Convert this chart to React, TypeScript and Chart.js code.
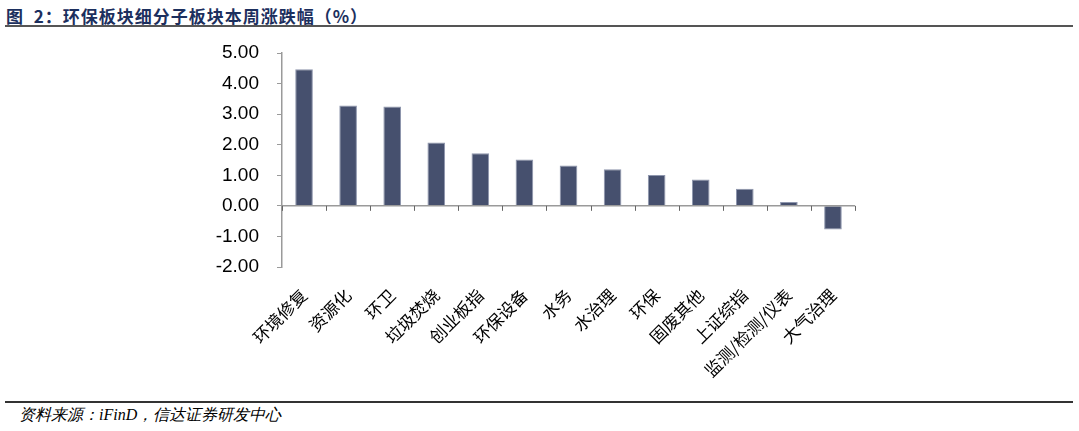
import React, { useEffect, useRef } from 'react';
import { Chart, registerables } from 'chart.js';

Chart.register(...registerables);

const categories = [
  '环境修复', '资源化', '环卫', '垃圾焚烧', '创业板指', '环保设备', '水务',
  '水治理', '环保', '固废其他', '上证综指', '监测/检测/仪表', '大气治理',
];
const weeklyChange = [4.47, 3.28, 3.25, 2.07, 1.72, 1.52, 1.32, 1.2, 1.01, 0.86, 0.56, 0.13, -0.77];
const yMin = -2;
const yMax = 5;
const yStep = 1;

// zero line with downward ticks at category boundaries
const zeroAxis = {
  id: 'zeroAxis',
  afterDatasetsDraw(chart: any) {
    const { ctx, chartArea, scales } = chart;
    const y = scales.y.getPixelForValue(0);
    const n = categories.length;
    const step = (chartArea.right - chartArea.left) / n;
    ctx.save();
    ctx.strokeStyle = '#9a9a9a';
    ctx.lineWidth = 1.5;
    ctx.beginPath();
    ctx.moveTo(chartArea.left, y);
    ctx.lineTo(chartArea.right, y);
    ctx.stroke();
    ctx.strokeStyle = '#666';
    ctx.lineWidth = 1;
    ctx.beginPath();
    for (let i = 0; i <= n; i++) {
      const x = Math.round(chartArea.left + i * step) + 0.5;
      ctx.moveTo(x, y);
      ctx.lineTo(x, y + 5);
    }
    ctx.stroke();
    ctx.restore();
  },
};

const App: React.FC = () => {
  const chartRef = useRef<HTMLCanvasElement>(null);
  const chartInstance = useRef<Chart | null>(null);

  useEffect(() => {
    document.body.style.margin = '0';
    if (!chartRef.current) return;
    const ctx = chartRef.current.getContext('2d');
    if (!ctx) return;

    if (chartInstance.current) {
      chartInstance.current.destroy();
      chartInstance.current = null;
    }

    chartInstance.current = new Chart(ctx, {
      type: 'bar',
      data: {
        labels: categories,
        datasets: [{
          data: weeklyChange,
          backgroundColor: '#46506e',
          borderColor: '#8e96ad',
          borderWidth: 1,
          barPercentage: 0.4,
          categoryPercentage: 1,
        }],
      },
      options: {
        animation: false,
        responsive: true,
        maintainAspectRatio: false,
        layout: { padding: { top: 53, right: 224, left: 0, bottom: 0 } },
        plugins: {
          legend: { display: false },
          tooltip: { enabled: false },
        },
        scales: {
          x: {
            offset: true,
            border: { display: false },
            grid: { display: false },
            ticks: {
              minRotation: 45,
              maxRotation: 45,
              autoSkip: false,
              padding: 10,
              color: '#000',
              font: { family: '"Noto Sans CJK SC", sans-serif', size: 17 },
            },
            afterFit: (scale: any) => { scale.height = 133; },
          },
          y: {
            min: yMin,
            max: yMax,
            border: { display: true, color: '#9a9a9a', width: 1.5 },
            grid: { drawOnChartArea: false, drawTicks: true, tickLength: 5, color: '#9a9a9a' },
            ticks: {
              stepSize: yStep,
              padding: 18,
              color: '#000',
              font: { family: '"Liberation Sans", Arial, sans-serif', size: 19 },
              callback: (v: any) => Number(v).toFixed(2),
            },
            afterFit: (scale: any) => { scale.width = 282; },
          },
        },
      },
      plugins: [zeroAxis],
    });

    return () => {
      if (chartInstance.current) {
        chartInstance.current.destroy();
        chartInstance.current = null;
      }
    };
  }, []);

  return (
    <div style={{ position: 'relative', width: 1079, height: 431, background: '#fff', overflow: 'hidden' }}>
      <div style={{
        position: 'absolute', left: 6, top: 3, fontFamily: '"Noto Sans CJK SC", sans-serif',
        fontWeight: 700, fontSize: 17, color: '#1c2f5e', letterSpacing: 1, whiteSpace: 'nowrap',
      }}>
        图&nbsp;&nbsp;2：环保板块细分子板块本周涨跌幅（%）
      </div>
      <div style={{ position: 'absolute', left: 5, top: 25, width: 1068, height: 2, background: '#555' }} />
      <div style={{ position: 'absolute', left: 0, top: 0, width: 1079, height: 400 }}>
        <canvas ref={chartRef}></canvas>
      </div>
      <div style={{ position: 'absolute', left: 5, top: 401, width: 1068, height: 2, background: '#333' }} />
      <div style={{
        position: 'absolute', left: 19, top: 405, fontFamily: '"Liberation Serif", serif',
        fontStyle: 'italic', fontSize: 16, color: '#000', whiteSpace: 'nowrap',
      }}>
        资料来源：iFinD，信达证券研发中心
      </div>
    </div>
  );
};

export default App;
